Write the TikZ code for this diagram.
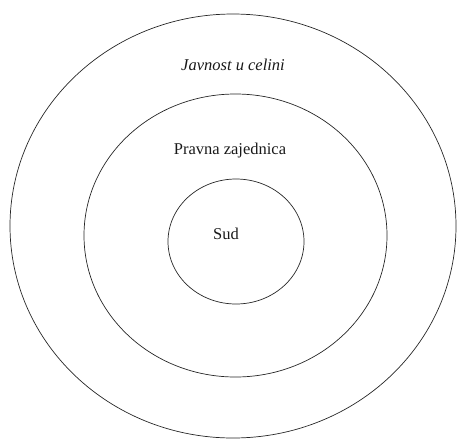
\documentclass[tikz,border=0pt]{standalone}
\usepackage{fontspec}
\setmainfont{Liberation Serif}
\usetikzlibrary{positioning}
\tikzset{
  ring/.style={draw=black!85,line width=0.7pt},
  lab/.style={font=\fontsize{16.5}{18}\selectfont,text=black!90},
}
\begin{document}
\begin{tikzpicture}[x=1pt,y=-1pt]
  \path[use as bounding box] (0,0) rectangle (457,440);
  % three nested rings
  \draw[ring] (233,226) ellipse [x radius=223,y radius=212];
  \draw[ring] (235.5,235.5) ellipse [x radius=151.5,y radius=141.5];
  \draw[ring] (236,241.5) ellipse [x radius=68,y radius=62.5];

  \node[lab,font=\fontsize{16.5}{18}\selectfont\itshape] (javnost) at (233,65) {Javnost u celini};
  \node[lab] (pravna) at (230,151) {Pravna zajednica};
  \node[lab] (sud) at (226,234) {Sud};
\end{tikzpicture}
\end{document}
